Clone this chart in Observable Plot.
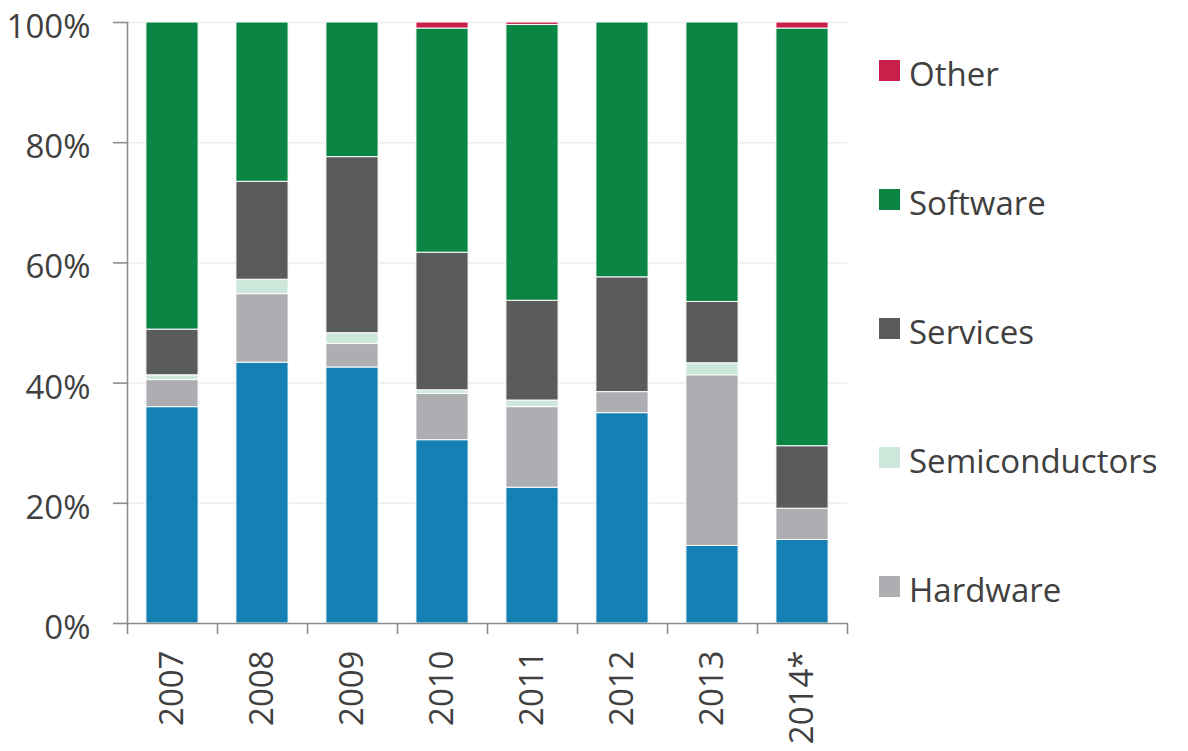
<!DOCTYPE html>
<html>
<head>
<meta charset="utf-8">
<script src="https://cdn.jsdelivr.net/npm/d3@7"></script>
<script src="https://cdn.jsdelivr.net/npm/@observablehq/plot@0.6"></script>
<style>
  body { margin: 0; background: #fff; font-family: "Open Sans", sans-serif; }
  #wrap { position: relative; width: 1188px; height: 751px; overflow: hidden; }
  #legend { position: absolute; left: 879px; top: 9px; }
  .item { display: flex; align-items: center; height: 129px; }
  .sw { width: 21px; height: 21px; margin-right: 9px; margin-top: -6px; flex: none; }
  .lbl { font-size: 33px; color: #404040; white-space: nowrap; line-height: 1; }
</style>
</head>
<body>
<div id="wrap"><div id="chart"></div><div id="legend"></div></div>
<script>
const years = ["2007", "2008", "2009", "2010", "2011", "2012", "2013", "2014*"];
const seriesNames = ["Internet", "Hardware", "Semiconductors", "Services", "Software", "Other"];
const seriesColors = ["#1580b4", "#adaeb1", "#cde7da", "#5a5c5b", "#0b8543", "#c8204b"];
const legendNames = ["Other", "Software", "Services", "Semiconductors", "Hardware"];

const internet       = [36.0, 43.4, 42.6, 30.5, 22.6, 35.0, 12.9, 13.9];
const hardware       = [4.5, 11.4, 3.9, 7.7, 13.4, 3.5, 28.4, 5.2];
const semiconductors = [0.8, 2.4, 1.8, 0.6, 1.1, 0.0, 2.0, 0.0];
const services       = [7.6, 16.3, 29.3, 22.9, 16.6, 19.1, 10.2, 10.4];
const software       = [51.1, 26.5, 22.4, 37.3, 45.9, 42.4, 46.5, 69.5];
const other          = [0.0, 0.0, 0.0, 1.0, 0.4, 0.0, 0.0, 1.0];

const yTicks = [0, 20, 40, 60, 80, 100];

const seriesValues = [internet, hardware, semiconductors, services, software, other];
const data = [];
seriesNames.forEach((s, si) => {
  years.forEach((yr, yi) => data.push({year: yr, series: s, value: seriesValues[si][yi]}));
});

const W = 1188, H = 751;
const mL = 127, mR = 341, mT = 22, mB = 128;
const step = (W - mL - mR) / years.length;
const axisColor = "#8c8c8c";

const chart = Plot.plot({
  width: W, height: H,
  marginLeft: mL, marginRight: mR, marginTop: mT, marginBottom: mB,
  style: {fontFamily: "Open Sans, sans-serif", fontSize: "33px", color: "#404040", background: "#fff", overflow: "visible"},
  x: {type: "band", domain: years, paddingInner: 0.42, paddingOuter: 0.21, round: false, label: null},
  y: {domain: [0, 100], label: null},
  color: {domain: seriesNames, range: seriesColors},
  marks: [
    Plot.ruleY(yTicks.filter(d => d > 0), {stroke: "#ededed", strokeWidth: 1.5}),
    Plot.barY(data, {x: "year", y: "value", fill: "series", stroke: "white", strokeWidth: 1, filter: d => d.value > 0}),
    Plot.ruleY([0], {stroke: axisColor, strokeWidth: 1.6}),
    Plot.frame({anchor: "left", stroke: axisColor, strokeWidth: 1.6}),
    Plot.axisY({ticks: yTicks, tickFormat: () => "", tickSize: 14, stroke: axisColor, strokeWidth: 1.6, label: null}),
    Plot.axisY({ticks: yTicks, tickFormat: d => d + "%", tickSize: 0, tickPadding: 37, dy: 5, label: null}),
    Plot.axisX({tickSize: 0, tickRotate: -90, tickPadding: 27, label: null}),
    Plot.axisX({tickSize: 11, dx: -step / 2, tickFormat: () => "", stroke: axisColor, strokeWidth: 1.6, label: null}),
    Plot.axisX({ticks: [years[years.length - 1]], tickSize: 11, dx: step / 2, tickFormat: () => "", stroke: axisColor, strokeWidth: 1.6, label: null})
  ]
});
document.getElementById("chart").appendChild(chart);

const legend = d3.select("#legend");
legendNames.forEach(name => {
  const it = legend.append("div").attr("class", "item");
  it.append("div").attr("class", "sw").style("background", seriesColors[seriesNames.indexOf(name)]);
  it.append("div").attr("class", "lbl").text(name);
});
</script>
</body>
</html>
